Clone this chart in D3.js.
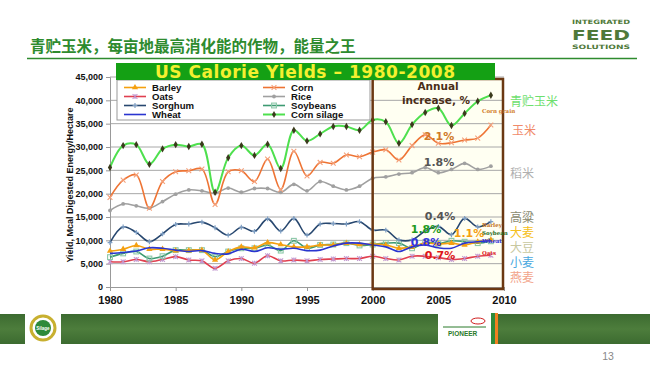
<!DOCTYPE html>
<html><head><meta charset="utf-8">
<script src="https://cdn.jsdelivr.net/npm/d3@7"></script>
<style>body{margin:0;background:#fff}svg{display:block}</style>
</head><body>
<svg id="c" width="650" height="365"></svg>
<script>
const years = d3.range(1980, 2010);
const cornSilage = [25600,30300,30500,26300,29600,30500,30100,30600,20300,27700,30300,28200,30600,25400,33600,31300,32800,34400,34400,33600,35800,35400,30800,34800,37400,38300,34600,37200,39800,41100];
const corn = [19200,22900,24000,16900,22600,24700,24900,25300,17700,24700,24900,22600,27400,20900,29100,23800,26700,26500,28300,27900,28900,29400,27200,30300,32600,30800,30900,31500,31900,34700];
const rice = [16400,17800,17400,16900,18300,19900,20800,20600,20100,21200,20300,21100,21100,20300,22000,20600,22600,21600,20800,21600,23300,23600,24200,24500,25600,24500,25200,26500,25200,25900];
const sorghum = [9500,12900,11700,9700,11400,13400,13500,13900,12700,11100,12800,11900,14600,12000,14700,11100,13500,13600,13500,14000,12200,12200,10100,10100,12000,13000,11200,14700,12900,14000];
const barley = [7700,8100,8900,8100,8100,7800,7800,7900,5800,7600,8600,8400,9500,9100,8600,8600,9000,9000,9400,9100,9200,9000,8300,8600,9400,9200,9400,9000,9700,10100];
const soybeans = [6400,7200,7600,6100,6600,7900,7900,7900,6500,7600,8300,8300,9000,7800,9900,8300,9000,9100,9400,8900,9100,9400,9400,8300,9600,9300,9900,9700,9400,9800];
const wheat = [7200,7400,7700,8400,8300,7900,7600,7800,7200,7100,8100,7600,8400,8100,8300,7800,7900,8800,9400,9400,9000,8600,7600,8600,9000,8400,8300,9400,9700,9900];
const oats = [5400,5400,5900,5400,5900,6500,5800,5600,4000,5600,6100,5100,6700,5600,5800,5600,5900,6000,6100,6100,6600,6100,5800,6600,6600,6300,5900,6100,6600,6800];
const yTicks = [0,5000,10000,15000,20000,25000,30000,35000,40000,45000];
const xTicks = [1980,1985,1990,1995,2000,2005,2010];
const seriesNames = ["Barley","Oats","Sorghum","Wheat","Corn","Rice","Soybeans","Corn silage"];
const pctLabels = ["2.1%","1.8%","0.4%","1.8%","1.1%","0.8%","0.7%"];
const cnLabels = ["青贮玉米","玉米","稻米","高粱","大麦","大豆","小麦","燕麦"];
const titleCN = "青贮玉米，每亩地最高消化能的作物，能量之王";
const chartTitle = "US Calorie Yields \u2013 1980-2008";

const svg = d3.select("#c");
const F = "Liberation Sans, Arial, sans-serif";
const x = d3.scaleLinear().domain([1980,2010]).range([110,504]);
const y = d3.scaleLinear().domain([0,45000]).range([287,77]);

// header
svg.append("text").attr("x",30).attr("y",52).attr("font-family","Noto Sans CJK SC").attr("font-weight","bold")
  .attr("font-size",15.5).attr("fill","#2e8b2e").text(titleCN);
svg.append("line").attr("x1",27).attr("x2",637).attr("y1",58.5).attr("y2",58.5).attr("stroke","#2e8b2e").attr("stroke-width",1.5);
const logo = svg.append("g").attr("fill","#4f7a3a").attr("font-family","DejaVu Sans Condensed, DejaVu Sans").attr("font-weight","bold").attr("text-anchor","middle");
logo.append("text").attr("x",601).attr("y",24).attr("font-size",6).attr("textLength",58).attr("lengthAdjust","spacingAndGlyphs").text("INTEGRATED");
logo.append("text").attr("x",601).attr("y",40).attr("font-size",14).attr("textLength",58).attr("lengthAdjust","spacingAndGlyphs").text("FEED");
logo.append("text").attr("x",601).attr("y",49).attr("font-size",6).attr("textLength",58).attr("lengthAdjust","spacingAndGlyphs").text("SOLUTIONS");

// brown box background
svg.append("rect").attr("x",x(2000)).attr("y",79).attr("width",x(2010)-x(2000)-1).attr("height",210).attr("fill","#fffff2");

// gridlines
svg.append("g").selectAll("line").data(yTicks.slice(1)).join("line")
  .attr("x1",110).attr("x2",504).attr("y1",d=>y(d)).attr("y2",d=>y(d)).attr("stroke","#a8a8a8").attr("stroke-width",1);

// axes
const ya = svg.append("g").attr("transform","translate(110,0)").call(d3.axisLeft(y).tickValues(yTicks).tickSize(4).tickFormat(d3.format(",")));
ya.select(".domain").attr("stroke","#999");
ya.selectAll(".tick line").attr("stroke","#999");
ya.selectAll("text").attr("font-family",F).attr("font-weight","bold").attr("font-size",9).attr("fill","#111");
const xa = svg.append("g").attr("transform","translate(0,287)").call(d3.axisBottom(x).tickValues(xTicks).tickSize(4).tickFormat(d3.format("d")));
xa.select(".domain").attr("stroke","#999");
xa.selectAll(".tick line").attr("stroke","#999");
xa.selectAll("text").attr("font-family",F).attr("font-weight","bold").attr("font-size",11).attr("fill","#111").attr("dy","0.9em");

svg.append("text").attr("transform","translate(73,185) rotate(-90)").attr("text-anchor","middle")
  .attr("font-family",F).attr("font-weight","bold").attr("font-size",9).attr("fill","#111").text("Yield, Mcal Digested Energy/Hectare");

// series
const S = [
  {n:"Barley", v:barley, c:"#f5a010", m:"tri", mc:"#f5a010", w:1.6},
  {n:"Oats", v:oats, c:"#e04050", m:"ast", mc:"#c49ad0", w:1.6},
  {n:"Sorghum", v:sorghum, c:"#27476f", m:"plus", mc:"#7f9fc4", w:1.6},
  {n:"Wheat", v:wheat, c:"#2a35d0", m:null, w:1.6},
  {n:"Corn", v:corn, c:"#ee7434", m:"x", mc:"#f4a07a", w:1.6},
  {n:"Rice", v:rice, c:"#a0a0a0", m:"circ", mc:"#a0a0a0", w:1.6},
  {n:"Soybeans", v:soybeans, c:"#3d9a72", m:"sq", mc:"#8cc8a8", w:1.6},
  {n:"Corn silage", v:cornSilage, c:"#4ee04e", m:"dia", mc:"#3a3a1c", w:2}
];
function marker(g, type, col, cx, cy, s) {
  if (type==="tri") g.append("path").attr("d",d3.symbol(d3.symbolTriangle, s*7)()).attr("transform",`translate(${cx},${cy})`).attr("fill",col);
  else if (type==="circ") g.append("circle").attr("cx",cx).attr("cy",cy).attr("r",s*0.8).attr("fill",col);
  else if (type==="sq") g.append("rect").attr("x",cx-s).attr("y",cy-s).attr("width",2*s).attr("height",2*s).attr("fill","none").attr("stroke",col).attr("stroke-width",1.1);
  else if (type==="dia") g.append("path").attr("d",d3.symbol(d3.symbolDiamond, s*6)()).attr("transform",`translate(${cx},${cy})`).attr("fill",col);
  else if (type==="plus") g.append("path").attr("d",`M${cx-s},${cy}H${cx+s}M${cx},${cy-s}V${cy+s}`).attr("stroke",col).attr("stroke-width",1.2);
  else if (type==="x") g.append("path").attr("d",`M${cx-s},${cy-s}L${cx+s},${cy+s}M${cx-s},${cy+s}L${cx+s},${cy-s}`).attr("stroke",col).attr("stroke-width",1.1);
  else if (type==="ast") g.append("path").attr("d",`M${cx-s},${cy-s}L${cx+s},${cy+s}M${cx-s},${cy+s}L${cx+s},${cy-s}M${cx},${cy-s}V${cy+s}`).attr("stroke",col).attr("stroke-width",1.1);
}
const line = d3.line().x((d,i)=>x(years[i])).y(d=>y(d)).curve(d3.curveCatmullRom.alpha(0.5));
const order = ["Oats","Soybeans","Barley","Wheat","Sorghum","Rice","Corn","Corn silage"];
order.forEach(nm=>{
  const s = S.find(t=>t.n===nm);
  const g = svg.append("g");
  g.append("path").attr("d",line(s.v)).attr("fill","none").attr("stroke",s.c).attr("stroke-width",s.w);
  if (s.m) s.v.forEach((d,i)=>marker(g,s.m,s.mc,x(years[i]),y(d), s.m==="dia"?2.6:2.4));
});

// brown box border
svg.append("rect").attr("x",x(2000)).attr("y",79).attr("width",x(2010)-x(2000)-1).attr("height",210).attr("fill","none").attr("stroke","#6b3812").attr("stroke-width",2.5);

// legend
const lg = svg.append("g");
lg.append("rect").attr("x",117).attr("y",80).attr("width",253).attr("height",40).attr("fill","#fff").attr("stroke","#999").attr("stroke-width",1);
seriesNames.forEach((nm,i)=>{
  const s = S.find(t=>t.n===nm);
  const col = Math.floor(i/4), row = i%4;
  const lx = col===0?124:263, ly = 87.5+row*9;
  lg.append("line").attr("x1",lx).attr("x2",lx+22).attr("y1",ly).attr("y2",ly).attr("stroke",s.c).attr("stroke-width",s.w);
  if (s.m) marker(lg,s.m,s.mc,lx+11,ly,2.4);
  lg.append("text").attr("x",lx+28).attr("y",ly+3.4).attr("font-family",F).attr("font-weight","bold").attr("font-size",9.6).attr("fill","#111").text(nm);
});

// title bar
svg.append("rect").attr("x",116).attr("y",63).attr("width",379).attr("height",17).attr("fill","#14a014");
svg.append("text").attr("x",305).attr("y",78).attr("text-anchor","middle").attr("font-family","DejaVu Sans, Verdana, sans-serif").attr("font-weight","bold")
  .attr("font-size",17).attr("textLength",300).attr("fill","#f4f030").text(chartTitle);

// annotations in box
const ann = svg.append("g").attr("font-family","DejaVu Sans, Verdana, sans-serif").attr("font-weight","bold").attr("text-anchor","middle");
ann.append("text").attr("x",438).attr("y",90).attr("font-size",10.5).attr("fill","#4a2e18").text("Annual");
ann.append("text").attr("x",436).attr("y",104).attr("font-size",10.5).attr("fill","#4a2e18").text("increase, %");
const pctPos = [[439,140,"#d07a28"],[439,166,"#555555"],[440,220,"#555555"],[426,233,"#1f9a1f"],[469,237,"#f5a010"],[426,246,"#3333dd"],[440,259,"#e01818"]];
pctLabels.forEach((t,i)=>ann.append("text").attr("x",pctPos[i][0]).attr("y",pctPos[i][1]).attr("font-size",11).attr("fill",pctPos[i][2]).text(t));
const small = svg.append("g").attr("font-family","DejaVu Serif, serif").attr("font-weight","bold").attr("font-size",5.5);
small.append("text").attr("x",482).attr("y",113).attr("fill","#d07a28").text("Corn grain");
small.append("text").attr("x",482).attr("y",227).attr("fill","#c07020").text("Barley");
small.append("text").attr("x",482).attr("y",235).attr("fill","#1f6a1f").text("Soybean");
small.append("text").attr("x",482).attr("y",243).attr("fill","#3333dd").text("Wheat");
small.append("text").attr("x",482).attr("y",255).attr("fill","#e01818").text("Oats");

// chinese labels
const cnPos = [[510,106,"#6ee06e"],[512,135,"#f08a6a"],[510,178,"#b0b0b0"],[510,222,"#8a8a70"],[510,237,"#f5c020"],[510,252,"#c8c8a0"],[510,267,"#4aa8e0"],[510,282,"#f2a48a"]];
cnLabels.forEach((t,i)=>svg.append("text").attr("x",cnPos[i][0]).attr("y",cnPos[i][1]).attr("font-family","Noto Sans CJK SC").attr("font-size",12).attr("fill",cnPos[i][2]).text(t));

// footer band
const defs = svg.append("defs");
const gr = defs.append("linearGradient").attr("id","fg").attr("x1",0).attr("x2",0).attr("y1",0).attr("y2",1);
gr.append("stop").attr("offset","0").attr("stop-color","#3c6b30");
gr.append("stop").attr("offset","0.5").attr("stop-color","#4d7d3c");
gr.append("stop").attr("offset","1").attr("stop-color","#3c6b30");
svg.append("rect").attr("x",0).attr("y",314).attr("width",650).attr("height",30).attr("fill","url(#fg)");
svg.append("rect").attr("x",25).attr("y",313).attr("width",36).attr("height",31).attr("fill","#fff");
svg.append("circle").attr("cx",43).attr("cy",328).attr("r",12).attr("fill","none").attr("stroke","#c8b030").attr("stroke-width",3);
svg.append("circle").attr("cx",43).attr("cy",328).attr("r",8).attr("fill","#2e8a3a");
svg.append("text").attr("x",43).attr("y",330).attr("text-anchor","middle").attr("font-family",F).attr("font-weight","bold").attr("font-size",4.5).attr("fill","#fff").text("Silage");
svg.append("rect").attr("x",438).attr("y",313).attr("width",53).attr("height",31).attr("fill","#fff");
svg.append("ellipse").attr("cx",478).attr("cy",321).attr("rx",7).attr("ry",3).attr("fill","none").attr("stroke","#d02020").attr("stroke-width",1);
svg.append("line").attr("x1",443).attr("x2",486).attr("y1",327).attr("y2",327).attr("stroke","#2a7a2a").attr("stroke-width",1);
svg.append("text").attr("x",448).attr("y",336).attr("font-family",F).attr("font-weight","bold").attr("font-size",6.5).attr("fill","#2a7a2a").text("PIONEER");
svg.append("rect").attr("x",495).attr("y",313).attr("width",3).attr("height",31).attr("fill","#f08020");
svg.append("rect").attr("x",491).attr("y",313).attr("width",4).attr("height",31).attr("fill","#2e8a3a");
svg.append("text").attr("x",608).attr("y",360).attr("text-anchor","middle").attr("font-family",F).attr("font-size",10.5).attr("fill","#888").text("13");
</script>
</body></html>
